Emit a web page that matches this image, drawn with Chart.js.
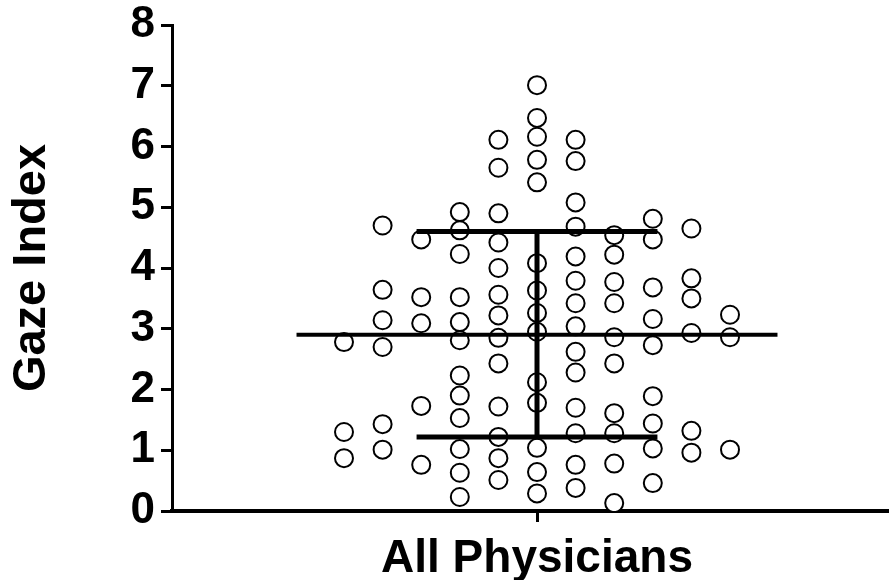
<!DOCTYPE html>
<html>
<head>
<meta charset="utf-8">
<script src="https://cdn.jsdelivr.net/npm/chart.js@4"></script>
<style>
  html, body { margin: 0; padding: 0; background: #fff; }
  #wrap { width: 889px; height: 580px; }
</style>
</head>
<body>
<div id="wrap"><canvas id="myChart"></canvas></div>
<script>
// dot columns (offset from category centre, in dot widths) and their values
const colOffsets = [-5, -4, -3, -2, -1, 0, 1, 2, 3, 4, 5];
const colValues = [
  [2.78, 1.30, 0.87],
  [4.70, 3.64, 3.14, 2.70, 1.43, 1.01],
  [4.47, 3.52, 3.09, 1.73, 0.76],
  [4.92, 4.62, 4.23, 3.52, 3.11, 2.81, 2.23, 1.90, 1.53, 1.02, 0.63, 0.23],
  [6.11, 5.65, 4.90, 4.42, 4.00, 3.56, 3.22, 2.85, 2.43, 1.72, 1.22, 0.87, 0.51],
  [7.01, 6.47, 6.16, 5.78, 5.41, 4.08, 3.63, 3.26, 2.95, 2.12, 1.78, 1.04, 0.64, 0.29],
  [6.11, 5.76, 5.08, 4.68, 4.19, 3.79, 3.42, 3.04, 2.62, 2.28, 1.70, 1.28, 0.76, 0.38],
  [4.54, 4.22, 3.77, 3.42, 2.86, 2.43, 1.61, 1.28, 0.78, 0.13],
  [4.81, 4.47, 3.68, 3.16, 2.73, 1.89, 1.44, 1.03, 0.46],
  [4.65, 3.83, 3.50, 2.93, 1.32, 0.96],
  [3.23, 2.86, 1.01]
];

const category = 'All Physicians';
const yTicks = [0, 1, 2, 3, 4, 5, 6, 7, 8];

// summary: mean and mean +/- SD
const meanValue = 2.90;
const sdUpper = 4.60;
const sdLower = 1.22;
const meanHalfWidth = 6.23;
const sdHalfWidth = 3.12;

let points = [];
colOffsets.forEach((off, i) => {
  colValues[i].forEach((v) => {
    points.push({x: off, y: v});
  });
});

const ctx = document.getElementById('myChart');
const fontFam = '"Liberation Sans", Arial, sans-serif';

function hline(x0, x1, y, w) {
  return {
    type: 'line',
    data: [{x: x0, y: y}, {x: x1, y: y}],
    borderColor: '#000',
    borderWidth: w,
    pointRadius: 0,
    order: 0
  };
}

new Chart(ctx, {
  type: 'scatter',
  data: {
    datasets: [
      hline(-meanHalfWidth, meanHalfWidth, meanValue, 4),
      hline(-sdHalfWidth, sdHalfWidth, sdUpper, 5),
      hline(-sdHalfWidth, sdHalfWidth, sdLower, 5),
      {
        // SD whisker
        type: 'line',
        data: [{x: 0, y: sdLower}, {x: 0, y: sdUpper}],
        borderColor: '#000',
        borderWidth: 5,
        pointRadius: 0,
        order: 0
      },
      {
        data: points,
        pointRadius: 9,
        pointBorderWidth: 2,
        pointBackgroundColor: '#fff',
        pointBorderColor: '#000',
        order: 1
      }
    ]
  },
  options: {
    responsive: true,
    maintainAspectRatio: false,
    animation: false,
    layout: {
      autoPadding: false,
      padding: {top: 25, right: 0, bottom: 0, left: 0}
    },
    scales: {
      x: {
        type: 'linear',
        min: -9.456,
        max: 9.119,
        afterBuildTicks: (scale) => { scale.ticks = [{value: 0}]; },
        afterFit: (scale) => {
          scale.height = 69;
          scale.paddingLeft = 0;
          scale.paddingRight = 0;
        },
        grid: {
          drawOnChartArea: false,
          drawTicks: true,
          tickLength: 11,
          tickWidth: 3,
          tickColor: '#000'
        },
        border: {display: true, color: '#000', width: 4},
        ticks: {
          color: '#000',
          padding: 10,
          maxRotation: 0,
          font: {family: fontFam, size: 46, weight: 'bold'},
          callback: () => category
        }
      },
      y: {
        min: 0,
        max: 8,
        afterBuildTicks: (scale) => { scale.ticks = yTicks.map((v) => ({value: v})); },
        afterFit: (scale) => {
          scale.width = 172;
          scale.paddingTop = 0;
          scale.paddingBottom = 0;
        },
        grid: {
          drawOnChartArea: false,
          drawTicks: true,
          tickLength: 11,
          tickWidth: 3,
          tickColor: '#000'
        },
        border: {display: true, color: '#000', width: 3},
        ticks: {
          color: '#000',
          padding: 6,
          font: {family: fontFam, size: 44, weight: 'bold'}
        },
        title: {
          display: true,
          text: 'Gaze Index',
          color: '#000',
          padding: {top: 4, bottom: 0},
          font: {family: fontFam, size: 47, weight: 'bold'}
        }
      }
    },
    plugins: {
      legend: {display: false},
      tooltip: {enabled: false}
    }
  }
});
</script>
</body>
</html>
